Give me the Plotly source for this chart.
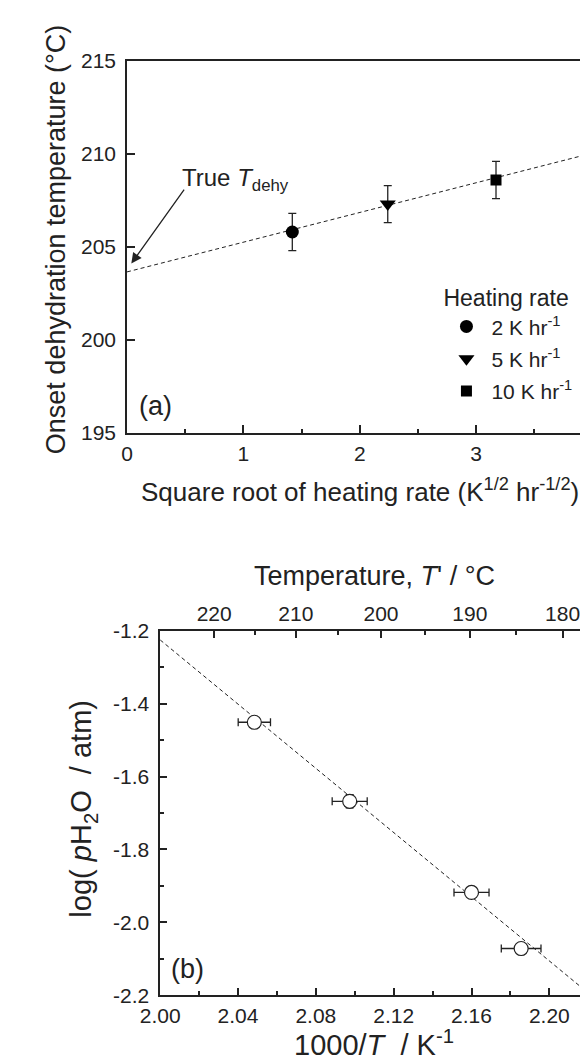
import plotly.graph_objects as go

# ---------------- data: panel (a) ----------------
rate_names = ["2 K hr<sup>-1</sup>", "5 K hr<sup>-1</sup>", "10 K hr<sup>-1</sup>"]
rate_symbols = ["circle", "triangle-down", "square"]
rate_sizes = [13, 14, 11]
sqrt_rate = [1.42, 2.24, 3.17]
onset_temp = [205.8, 207.3, 208.6]
onset_err = [1.0, 1.0, 1.0]
fit_a_x = [0.0, 4.0]
fit_a_y = [203.65, 210.05]
a_xticks = [0, 1, 2, 3, 4]
a_yticks = [195, 200, 205, 210, 215]

# ---------------- data: panel (b) ----------------
inv_T = [2.0484, 2.0974, 2.1600, 2.1855]
inv_T_err = [0.0083, 0.0090, 0.0090, 0.0102]
log_p = [-1.451, -1.668, -1.918, -2.072]
log_p_err = [0.012, 0.018, 0.014, 0.010]
fit_b_x = [2.000, 2.217]
fit_b_y = [-1.225, -2.181]
top_T_major = [220, 210, 200, 190, 180]
top_T_minor = [215, 205, 195, 185]

W, H = 588, 1064
INK = "#222222"
FONT = "Liberation Sans, Arial, sans-serif"


def px_x(p):
    return p / W


def px_y(p):
    return 1 - p / H


fig = go.Figure()

# panel (a) fit line
fig.add_trace(go.Scatter(x=fit_a_x, y=fit_a_y, mode="lines", xaxis="x", yaxis="y",
                         line=dict(color=INK, width=1, dash="4px,3px"),
                         showlegend=False, hoverinfo="skip"))
# panel (a) points
for i in range(len(sqrt_rate)):
    fig.add_trace(go.Scatter(
        x=[sqrt_rate[i]], y=[onset_temp[i]], mode="markers", xaxis="x", yaxis="y",
        name=rate_names[i], legendgroup=f"g{i}",
        marker=dict(symbol=rate_symbols[i], size=rate_sizes[i], color="black"),
        error_y=dict(type="data", array=[onset_err[i]], color=INK, thickness=1.3, width=4),
    ))

# panel (b) fit line
fig.add_trace(go.Scatter(x=fit_b_x, y=fit_b_y, mode="lines", xaxis="x2", yaxis="y2",
                         line=dict(color=INK, width=1, dash="4px,3px"),
                         showlegend=False, hoverinfo="skip"))
fig.add_trace(go.Scatter(
    x=inv_T, y=log_p, mode="markers", xaxis="x2", yaxis="y2", showlegend=False,
    marker=dict(symbol="circle", size=14, color="white", line=dict(color=INK, width=1.2)),
    error_x=dict(type="data", array=inv_T_err, color=INK, thickness=1.3, width=4),
    error_y=dict(type="data", array=log_p_err, color=INK, thickness=1.3, width=4),
))
# invisible trace to anchor the top temperature axis
fig.add_trace(go.Scatter(x=inv_T, y=log_p, mode="markers", xaxis="x3", yaxis="y2",
                         marker=dict(opacity=0), showlegend=False, hoverinfo="skip"))

axis_common = dict(showgrid=False, zeroline=False, showline=True, linecolor=INK, linewidth=1.5,
                   ticks="inside", tickcolor=INK, tickwidth=1.5, mirror=True)

top_vals = [1000.0 / (t + 273.15) for t in top_T_major]
top_minor_vals = [1000.0 / (t + 273.15) for t in top_T_minor]

fig.update_layout(
    width=W, height=H, autosize=False,
    margin=dict(l=0, r=0, t=0, b=0),
    paper_bgcolor="white", plot_bgcolor="white",
    font=dict(family=FONT, color=INK, size=20),
    xaxis=dict(domain=[px_x(102.5), px_x(584.5)], anchor="y", range=[0, 4],
               tickmode="array", tickvals=a_xticks, ticklen=8,
               minor=dict(dtick=0.5, tick0=0, ticks="inside", ticklen=4, tickwidth=1.5, tickcolor=INK),
               tickfont=dict(size=21), ticklabelstandoff=1, **axis_common),
    yaxis=dict(domain=[px_y(421.7), px_y(42)], anchor="x", range=[195, 215],
               tickmode="array", tickvals=a_yticks, ticklen=8,
               tickfont=dict(size=21), ticklabelstandoff=5, **axis_common),
    xaxis2=dict(domain=[px_x(136.8), px_x(580)], anchor="y2", range=[2.00, 2.22],
                tickmode="array", tickvals=[2.00, 2.04, 2.08, 2.12, 2.16, 2.20],
                ticktext=["2.00", "2.04", "2.08", "2.12", "2.16", "2.20"], ticklen=7,
                minor=dict(dtick=0.02, tick0=2.0, ticks="inside", ticklen=4, tickwidth=1.5, tickcolor=INK),
                tickfont=dict(size=21), ticklabelstandoff=1, **axis_common),
    yaxis2=dict(domain=[px_y(996.7), px_y(624.3)], anchor="x2", range=[-2.2, -1.2],
                tickmode="array", tickvals=[-2.2, -2.0, -1.8, -1.6, -1.4, -1.2],
                ticktext=["-2.2", "-2.0", "-1.8", "-1.6", "-1.4", "-1.2"], ticklen=7,
                minor=dict(dtick=0.1, tick0=-2.2, ticks="inside", ticklen=4, tickwidth=1.5, tickcolor=INK),
                tickfont=dict(size=21), ticklabelstandoff=5, **axis_common),
    xaxis3=dict(overlaying="x2", anchor="y2", side="top", range=[2.00, 2.22],
                tickmode="array", tickvals=top_vals, ticktext=[str(t) for t in top_T_major],
                ticks="inside", ticklen=7, tickwidth=1.5, tickcolor=INK,
                minor=dict(tickmode="array", tickvals=top_minor_vals, ticks="inside",
                           ticklen=4, tickwidth=1.5, tickcolor=INK),
                showgrid=False, zeroline=False, showline=False,
                tickfont=dict(size=21), ticklabelstandoff=5),
    legend=dict(x=px_x(428), xanchor="left", y=px_y(262), yanchor="top",
                title=dict(text="Heating rate", font=dict(size=23)),
                font=dict(size=21), itemwidth=40, tracegroupgap=2,
                bgcolor="rgba(0,0,0,0)", borderwidth=0),
)

ann = []
# axis titles
ann.append(dict(text="Onset dehydration temperature (°C)", xref="paper", yref="paper",
                x=px_x(29), y=px_y(224), textangle=-90, showarrow=False,
                xanchor="center", yanchor="middle", font=dict(size=27)))
ann.append(dict(text="Square root of heating rate (K<sup>1/2</sup> hr<sup>-1/2</sup>)",
                xref="paper", yref="paper", x=px_x(343.5), y=px_y(481), showarrow=False,
                xanchor="center", yanchor="middle", font=dict(size=26)))
ann.append(dict(text="Temperature, <i>T</i>' / °C", xref="paper", yref="paper",
                x=px_x(358.4), y=px_y(568), showarrow=False,
                xanchor="center", yanchor="middle", font=dict(size=27)))
ann.append(dict(text="log( <i>p</i>H<sub>2</sub>O  / atm)", xref="paper", yref="paper",
                x=px_x(57), y=px_y(806), textangle=-90, showarrow=False,
                xanchor="center", yanchor="middle", font=dict(size=29)))
ann.append(dict(text="1000/<i>T</i>  / K<sup>-1</sup>", xref="paper", yref="paper",
                x=px_x(358.4), y=px_y(1046), showarrow=False,
                xanchor="center", yanchor="middle", font=dict(size=29)))
# panel labels
ann.append(dict(text="(a)", xref="x", yref="y", x=0.245, y=196.45, showarrow=False,
                xanchor="center", yanchor="middle", font=dict(size=27)))
ann.append(dict(text="(b)", xref="x2", yref="y2", x=2.014, y=-2.128, showarrow=False,
                xanchor="center", yanchor="middle", font=dict(size=27)))
# True T_dehy label and arrow
ann.append(dict(text="True <i>T</i><sub>dehy</sub>", xref="x", yref="y", x=0.456, y=208.6,
                showarrow=False, xanchor="left", yanchor="middle", font=dict(size=24)))
ann.append(dict(text="", xref="x", yref="y", x=0.037, y=204.1, ax=0.50, ay=208.16,
                axref="x", ayref="y", showarrow=True, arrowhead=2, arrowsize=1.6,
                arrowwidth=1.3, arrowcolor=INK))
fig.update_layout(annotations=ann)

fig.write_html("out.html")
